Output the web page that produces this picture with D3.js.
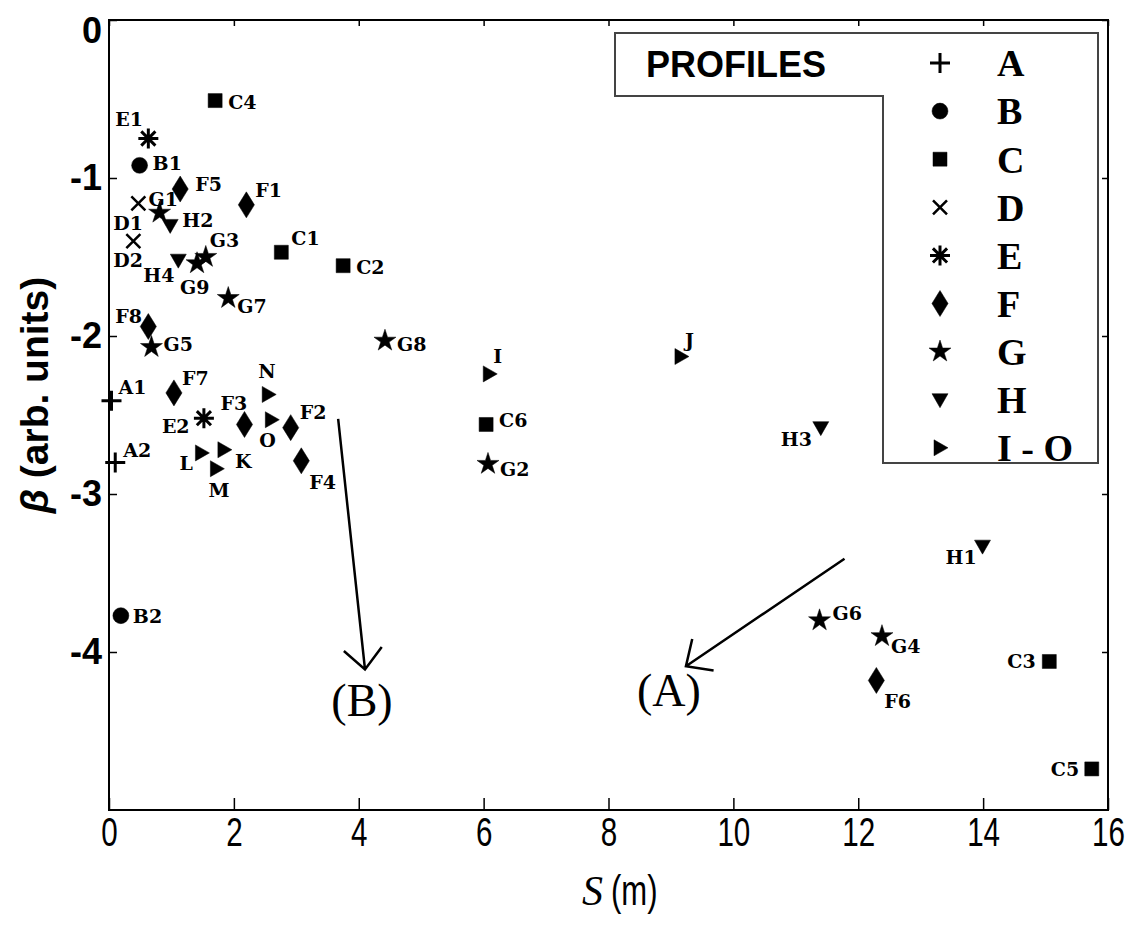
<!DOCTYPE html>
<html>
<head>
<meta charset="utf-8">
<script src="https://cdn.jsdelivr.net/npm/d3@7"></script>
<style>
body { margin: 0; background: #fff; }
</style>
</head>
<body>
<div id="vis"></div>
<script>
// values
const pointNames = ['A1', 'A2', 'B1', 'B2',
    'C1', 'C2', 'C3', 'C4', 'C5', 'C6',
    'D1', 'D2', 'E1', 'E2',
    'F1', 'F2', 'F3', 'F4', 'F5', 'F6', 'F7', 'F8',
    'G1', 'G2', 'G3', 'G4', 'G5', 'G6', 'G7', 'G8', 'G9',
    'H1', 'H2', 'H3', 'H4',
    'I', 'J', 'K', 'L', 'M', 'N', 'O'];
const sValues = [0.04, 0.10, 0.49, 0.19,
    2.76, 3.75, 15.06, 1.70, 15.74, 6.04,
    0.47, 0.39, 0.63, 1.52,
    2.20, 2.91, 2.17, 3.08, 1.14, 12.29, 1.04, 0.63,
    0.81, 6.07, 1.55, 12.38, 0.68, 11.38, 1.91, 4.42, 1.41,
    13.99, 0.98, 11.40, 1.11,
    6.09, 9.16, 1.84, 1.48, 1.72, 2.55, 2.60];
const betaValues = [-2.41, -2.80, -0.92, -3.77,
    -1.47, -1.555, -4.06, -0.51, -4.74, -2.56,
    -1.16, -1.40, -0.75, -2.52,
    -1.17, -2.58, -2.56, -2.79, -1.07, -4.18, -2.36, -1.94,
    -1.22, -2.81, -1.50, -3.90, -2.07, -3.80, -1.76, -2.03, -1.54,
    -3.33, -1.30, -2.58, -1.52,
    -2.24, -2.13, -2.72, -2.74, -2.84, -2.37, -2.53];

const profileKeys = ['A', 'B', 'C', 'D', 'E', 'F', 'G', 'H', 'I - O'];
const xTicks = [0, 2, 4, 6, 8, 10, 12, 14, 16];
const yTicks = [0, -1, -2, -3, -4];

// annotation arrows (B) and (A), in data units
const arrowNames = ['(B)', '(A)'];
const arrowFromS = [3.67, 11.78];
const arrowFromBeta = [-2.525, -3.41];
const arrowToS = [4.10, 9.24];
const arrowToBeta = [-4.11, -4.09];

// label placement (pixels from marker: dx, baseline dy)
const labelOffsets = {
    A1: [7, -7], A2: [8, -5], B1: [13, 5], B2: [12, 7],
    C1: [10, -7], C2: [13, 8], C3: [-42, 7], C4: [13, 8], C5: [-41, 7], C6: [13, 3],
    D1: [-25, 27], D2: [-20, 26], E1: [-33, -13], E2: [-42, 15],
    F1: [9, -8], F2: [9, -9], F3: [-24, -14], F4: [8, 28], F5: [15, 2], F6: [8, 28], F7: [8, -8], F8: [-33, -4],
    G1: [-11, -7], G2: [12, 12], G3: [4, -10], G4: [9, 17], G5: [12, 4], G6: [13, 0], G7: [9, 15], G8: [12, 10], G9: [-17, 31],
    H1: [-37, 18], H2: [12, 2], H3: [-40, 18], H4: [-35, 22],
    I: [4, -11], J: [4, -10], K: [11, 18], L: [-22, 17], M: [-8, 28], N: [-10, -16], O: [-12, 27]
};

// custom marker shapes for d3.symbol (size = r*r)
const tallDiamond = { draw(ctx, size) { const r = Math.sqrt(size), w = r * 0.62;
    ctx.moveTo(0, -r); ctx.lineTo(w, 0); ctx.lineTo(0, r); ctx.lineTo(-w, 0); ctx.closePath(); } };
const triDown = { draw(ctx, size) { const r = Math.sqrt(size);
    ctx.moveTo(-r, -r * 0.75); ctx.lineTo(r, -r * 0.75); ctx.lineTo(0, r); ctx.closePath(); } };
const triRight = { draw(ctx, size) { const r = Math.sqrt(size);
    ctx.moveTo(-r * 0.75, -r); ctx.lineTo(r, 0); ctx.lineTo(-r * 0.75, r); ctx.closePath(); } };
const plusLines = { draw(ctx, size) { const r = Math.sqrt(size);
    ctx.moveTo(-r, 0); ctx.lineTo(r, 0); ctx.moveTo(0, -r); ctx.lineTo(0, r); } };
const crossLines = { draw(ctx, size) { const r = Math.sqrt(size);
    ctx.moveTo(-r, -r); ctx.lineTo(r, r); ctx.moveTo(-r, r); ctx.lineTo(r, -r); } };
const asteriskLines = { draw(ctx, size) { const r = Math.sqrt(size);
    for (let k = 0; k < 4; k++) {
        const a = k * Math.PI / 4;
        ctx.moveTo(-r * Math.cos(a), -r * Math.sin(a)); ctx.lineTo(r * Math.cos(a), r * Math.sin(a));
    } } };

const markerStyle = {
    'A': { type: plusLines, size: 100, fill: false, sw: 3 },
    'B': { type: d3.symbolCircle, size: 200, fill: true },
    'C': { type: d3.symbolSquare, size: 196, fill: true },
    'D': { type: crossLines, size: 49, fill: false, sw: 2.5 },
    'E': { type: asteriskLines, size: 100, fill: false, sw: 3 },
    'F': { type: tallDiamond, size: 169, fill: true },
    'G': { type: d3.symbolStar, size: 150, fill: true },
    'H': { type: triDown, size: 64, fill: true },
    'I - O': { type: triRight, size: 64, fill: true }
};

function profileOf(name)
{
    const c = name.charAt(0);
    return c <= 'H' ? c : 'I - O';
}

const width = 1138, height = 925;
const plot = { left: 109, right: 1108, top: 20, bottom: 810 };
const narrowSans = '"Liberation Sans", Arial, sans-serif';

const svg = d3.select('#vis').append('svg')
    .attr('width', width)
    .attr('height', height);

const x = d3.scaleLinear().domain([0, 16]).range([plot.left, plot.right]);
const y = d3.scaleLinear().domain([-5, 0]).range([plot.bottom, plot.top]);

// axes (ticks point inward)
const xAxis = svg.append('g')
    .attr('transform', 'translate(0,' + plot.bottom + ')')
    .call(d3.axisBottom(x).tickValues(xTicks).tickSize(-12).tickPadding(8).tickFormat(d => String(d)));
xAxis.selectAll('text')
    .attr('font-family', narrowSans)
    .attr('font-size', 40)
    .attr('transform', 'scale(0.74,1)')
    .attr('fill', '#000');

const yAxis = svg.append('g')
    .attr('transform', 'translate(' + plot.left + ',0)')
    .call(d3.axisLeft(y).tickValues(yTicks).tickSize(-8).tickPadding(7).tickFormat(d => String(d)));
yAxis.selectAll('text')
    .attr('font-family', '"Liberation Sans", Arial, sans-serif')
    .attr('font-weight', 'bold')
    .attr('font-size', 36)
    .attr('fill', '#000');
yAxis.selectAll('.tick').filter(d => d === 0).select('text').attr('dy', '0.62em');

svg.append('g')
    .attr('transform', 'translate(0,' + plot.top + ')')
    .call(d3.axisTop(x).tickValues(xTicks).tickSize(-6).tickFormat(''));
svg.append('g')
    .attr('transform', 'translate(' + plot.right + ',0)')
    .call(d3.axisRight(y).tickValues(yTicks).tickSize(-6).tickFormat(''));

svg.selectAll('.domain').remove();
svg.selectAll('.tick line').attr('stroke', '#000').attr('stroke-width', 1.5);

// frame
svg.append('rect')
    .attr('x', plot.left).attr('y', plot.top)
    .attr('width', plot.right - plot.left).attr('height', plot.bottom - plot.top)
    .attr('fill', 'none').attr('stroke', '#000').attr('stroke-width', 2);

// axis titles
svg.append('text')
    .attr('transform', 'translate(48,395) rotate(-90)')
    .attr('text-anchor', 'middle')
    .attr('font-family', '"Liberation Sans", Arial, sans-serif')
    .attr('font-weight', 'bold')
    .attr('font-size', 39)
    .call(t => {
        t.append('tspan').attr('font-style', 'italic').text('\u03B2');
        t.append('tspan').text(' (arb. units)');
    });

const xTitle = svg.append('g').attr('transform', 'translate(615,905)');
xTitle.append('text')
    .attr('x', -12)
    .attr('text-anchor', 'end')
    .attr('font-family', '"Liberation Serif", serif')
    .attr('font-style', 'italic')
    .attr('font-size', 42)
    .text('S');
xTitle.append('text')
    .attr('transform', 'translate(-4,0) scale(0.74,1)')
    .attr('font-family', narrowSans)
    .attr('font-size', 42)
    .text('(m)');

// legend box (L shape)
const legendPath = d3.path();
legendPath.moveTo(615, 33);
legendPath.lineTo(1098, 33);
legendPath.lineTo(1098, 463);
legendPath.lineTo(883, 463);
legendPath.lineTo(883, 96);
legendPath.lineTo(615, 96);
legendPath.closePath();
svg.append('path')
    .attr('d', legendPath.toString())
    .attr('fill', '#fff')
    .attr('stroke', '#444')
    .attr('stroke-width', 2);

svg.append('text')
    .attr('x', 646).attr('y', 77)
    .attr('font-family', '"Liberation Sans", Arial, sans-serif')
    .attr('font-weight', 'bold')
    .attr('font-size', 36)
    .text('PROFILES');

function drawMarker(sel, key)
{
    const st = markerStyle[key];
    sel.attr('d', d3.symbol().type(st.type).size(st.size)())
        .attr('fill', st.fill ? '#000' : 'none')
        .attr('stroke', '#000')
        .attr('stroke-width', st.fill ? 0.5 : st.sw);
}

const legendRows = svg.append('g').selectAll('g')
    .data(profileKeys)
    .join('g')
    .attr('transform', (d, i) => 'translate(940,' + (63 + i * 48.1) + ')');
legendRows.append('path').each(function(d) { drawMarker(d3.select(this), d); });
legendRows.append('text')
    .attr('x', 57)
    .attr('dy', '0.35em')
    .attr('font-family', '"Liberation Serif", "Times New Roman", serif')
    .attr('font-weight', 'bold')
    .attr('font-size', 38)
    .text(d => d);

// data points
const points = pointNames.map((name, i) => ({ name: name, s: sValues[i], beta: betaValues[i] }));

svg.append('g').selectAll('path')
    .data(points)
    .join('path')
    .attr('transform', d => 'translate(' + x(d.s) + ',' + y(d.beta) + ')')
    .each(function(d) { drawMarker(d3.select(this), profileOf(d.name)); });

svg.append('g').selectAll('text')
    .data(points)
    .join('text')
    .attr('x', d => x(d.s) + labelOffsets[d.name][0])
    .attr('y', d => y(d.beta) + labelOffsets[d.name][1])
    .attr('font-family', '"DejaVu Serif", serif')
    .attr('font-weight', 'bold')
    .attr('font-size', 19)
    .text(d => d.name);

// arrows with open heads
const arrows = arrowNames.map((n, i) => ({ name: n,
    x0: x(arrowFromS[i]), y0: y(arrowFromBeta[i]), x1: x(arrowToS[i]), y1: y(arrowToBeta[i]) }));
const arrowG = svg.append('g')
    .attr('stroke', '#000')
    .attr('stroke-width', 2.5)
    .attr('fill', 'none');
arrows.forEach(a => {
    const ang = Math.atan2(a.y0 - a.y1, a.x0 - a.x1);
    const len = 28, spread = Math.PI / 4.2;
    const p = d3.path();
    p.moveTo(a.x0, a.y0);
    p.lineTo(a.x1, a.y1);
    p.moveTo(a.x1 + len * Math.cos(ang - spread), a.y1 + len * Math.sin(ang - spread));
    p.lineTo(a.x1, a.y1);
    p.lineTo(a.x1 + len * Math.cos(ang + spread), a.y1 + len * Math.sin(ang + spread));
    arrowG.append('path').attr('d', p.toString());
});
svg.append('g').selectAll('text')
    .data(arrows)
    .join('text')
    .attr('x', d => d.name === '(B)' ? d.x1 - 3 : d.x1 - 17)
    .attr('y', d => d.y1 + (d.name === '(B)' ? 47 : 40))
    .attr('text-anchor', 'middle')
    .attr('font-family', '"Liberation Serif", "Times New Roman", serif')
    .attr('font-size', 46)
    .text(d => d.name);
</script>
</body>
</html>
